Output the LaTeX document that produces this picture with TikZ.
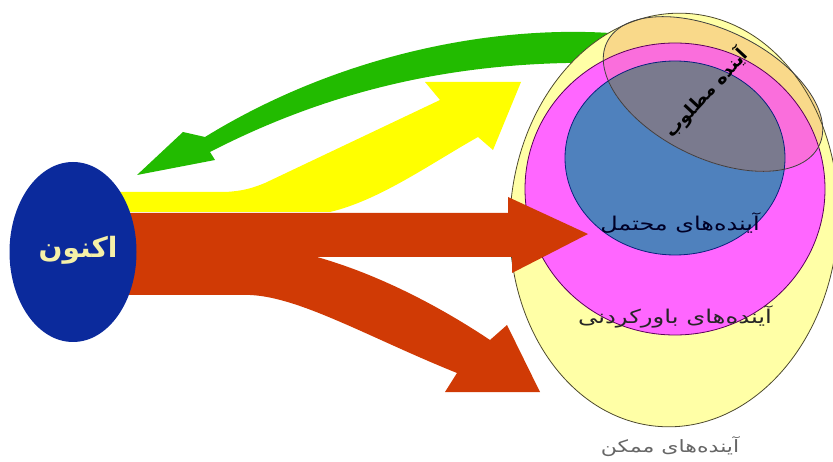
\documentclass[tikz,border=0pt]{standalone}
\usepackage{fontspec}
\usepackage{graphicx}
\usetikzlibrary{shapes.geometric}
\TeXXeTstate=1
\newfontfamily\arabicfont[Script=Arabic]{DejaVu Sans}
\definecolor{navy}{HTML}{0B2A9C}
\definecolor{paley}{HTML}{FFFFA6}
\definecolor{magen}{HTML}{FF66FF}
\definecolor{steel}{HTML}{4F81BD}
\definecolor{lorange}{HTML}{F9D98A}
\definecolor{pinkov}{HTML}{FA6EDC}
\definecolor{grayov}{HTML}{7A7A8E}
\definecolor{redar}{HTML}{D03A05}
\definecolor{yelar}{HTML}{FFFF00}
\definecolor{grear}{HTML}{22BB00}
\definecolor{txty}{HTML}{F5F0A8}
\tikzset{
  edgeline/.style={line width=0.8pt},
  lbl/.style={inner sep=0pt, font=\arabicfont},
  outerrot/.style={rotate around={-4:(674,220)}},
  desrot/.style={rotate around={-26:(713,94)}}
}
\begin{document}
\begin{tikzpicture}[x=1pt,y=-1pt]
\useasboundingbox (0,0) rectangle (833,462);
% green arrow (behind the circles)
\fill[grear] (610,33) .. controls (480,25) and (330,60) .. (205,137) -- (183,132) -- (137,175) -- (215,160) -- (210,152) .. controls (340,85) and (470,60) .. (610,63) -- cycle;
% nested futures
\fill[paley, outerrot] (674,220) ellipse [x radius=164, y radius=207];
\fill[magen] (675,189) ellipse [x radius=150, y radius=146];
\fill[steel] (675,158) ellipse [x radius=110, y radius=97];
\begin{scope}
  \clip[desrot] (713,94) ellipse [x radius=118, y radius=64];
  \fill[lorange] (580,0) rectangle (833,200);
  \fill[pinkov] (675,189) ellipse [x radius=150, y radius=146];
  \fill[grayov] (675,158) ellipse [x radius=110, y radius=97];
\end{scope}
\draw[edgeline, draw=black!60!olive, outerrot] (674,220) ellipse [x radius=164, y radius=207];
\draw[edgeline, draw=violet!70!black] (675,189) ellipse [x radius=150, y radius=146];
\draw[edgeline, draw=navy!80!black] (675,158) ellipse [x radius=110, y radius=97];
\draw[edgeline, draw=black!75, desrot] (713,94) ellipse [x radius=118, y radius=64];
% yellow arrow
\fill[yelar] (100,192) -- (225,192) .. controls (245,191) and (255,187) .. (265,183) -- (440,100) -- (425,82) -- (521,82) -- (493,150) -- (478,137) .. controls (430,164) and (380,200) .. (330,212) -- (100,212) -- cycle;
% red arrows
\fill[redar] (100,257) -- (317,257) .. controls (370,272) and (430,300) .. (490,340) -- (507,325) -- (540,392) -- (445,392) -- (457,373) .. controls (370,338) and (300,297) .. (250,295) -- (100,295) -- cycle;
\fill[redar] (100,213) -- (508,213) -- (508,197) -- (588,234) -- (512,273) -- (512,257) -- (100,257) -- cycle;
% now
\node[ellipse, fill=navy, minimum width=127pt, minimum height=180pt, inner sep=0pt] (now) at (73,252) {};
\node[lbl, text=txty, font=\arabicfont\bfseries\fontsize{28}{32}\selectfont] (nowtxt) at (78,250) {\beginR اکنون\endR};
% labels
\node[lbl, rotate=47, font=\arabicfont\bfseries\fontsize{18}{22}\selectfont] (desired) at (706,93) {\beginR آینده مطلوب\endR};
\node[lbl, text=black!85!blue, font=\arabicfont\fontsize{19}{22}\selectfont] (probable) at (680,223) {\scalebox{1.26}[1]{\beginR آینده‌های محتمل\endR}};
\node[lbl, text=black!85, font=\arabicfont\fontsize{19}{22}\selectfont] (plausible) at (675,317) {\scalebox{1.28}[1]{\beginR آینده‌های باورکردنی\endR}};
\node[lbl, text=black!60, font=\arabicfont\fontsize{17}{20}\selectfont] (possible) at (670,447) {\scalebox{1.3}[1]{\beginR آینده‌های ممکن\endR}};
\end{tikzpicture}
\end{document}
